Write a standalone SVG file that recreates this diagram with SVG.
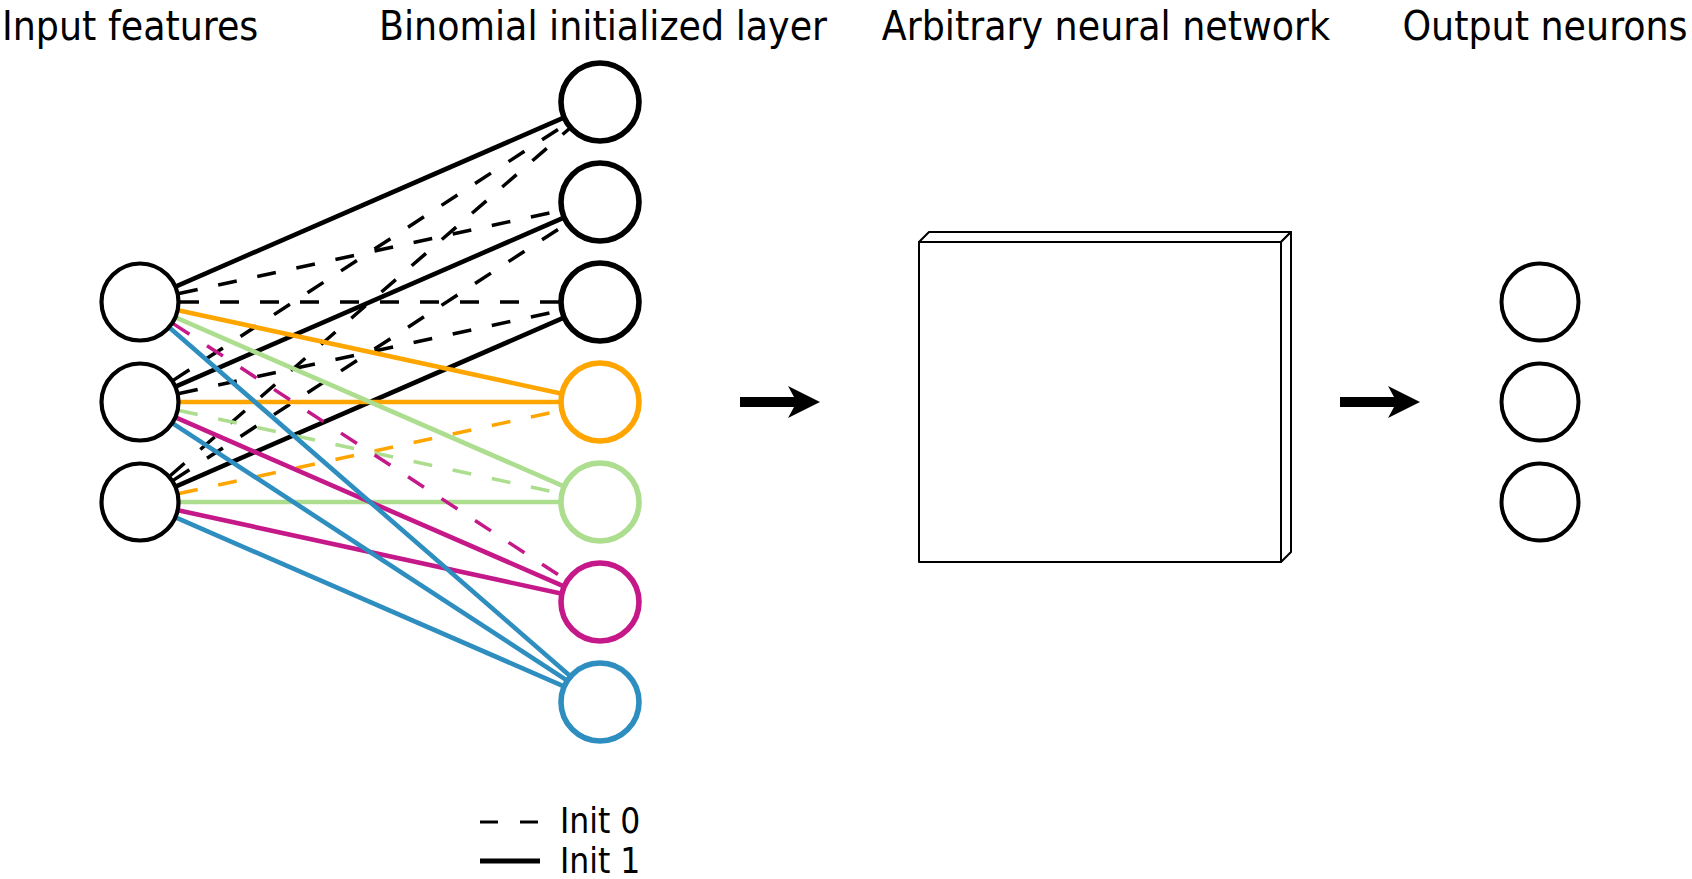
<svg xmlns="http://www.w3.org/2000/svg" width="1692" height="879" viewBox="0 0 1692 879">
<style>
text{font-family:"DejaVu Sans Condensed","DejaVu Sans",sans-serif;font-stretch:condensed;fill:#000}
.title{font-size:40.5px}
.leg{font-size:35px}
.nin{fill:#fff;stroke:#000;stroke-width:4.2}
.nb{fill:#fff;stroke-width:5.6}
.nout{fill:#fff;stroke:#000;stroke-width:4}
.s{stroke-width:4.6;fill:none}
.d{stroke-width:3.5;fill:none;stroke-dasharray:19 21}
.k{stroke:#000}.o{stroke:#FFA500}.g{stroke:#ADDE8F}.m{stroke:#C5198A}.b{stroke:#2E8EC0}
.box{fill:#fff;stroke:#000;stroke-width:2;stroke-linejoin:round}
</style>
<rect width="1692" height="879" fill="#fff"/>
<g id="titles">
<text class="title" x="2" y="40">Input features</text>
<text class="title" x="603" y="40" text-anchor="middle">Binomial initialized layer</text>
<text class="title" x="1106" y="40" text-anchor="middle">Arbitrary neural network</text>
<text class="title" x="1545" y="40" text-anchor="middle">Output neurons</text>
</g>
<g id="connectors">
<line class="s k" x1="176.68" y1="286.05" x2="563.32" y2="117.95"/>
<line class="d k" x1="173.50" y1="380.15" x2="566.50" y2="123.85"/>
<line class="d k" x1="170.18" y1="475.75" x2="569.82" y2="128.25"/>
<line class="d k" x1="179.09" y1="293.50" x2="560.91" y2="210.50"/>
<line class="s k" x1="176.68" y1="386.05" x2="563.32" y2="217.95"/>
<line class="d k" x1="173.50" y1="480.15" x2="566.50" y2="223.85"/>
<line class="d k" x1="180" y1="302" x2="560" y2="302"/>
<line class="d k" x1="179.09" y1="393.50" x2="560.91" y2="310.50"/>
<line class="s k" x1="176.68" y1="486.05" x2="563.32" y2="317.95"/>
<line class="s o" x1="179.09" y1="310.50" x2="560.91" y2="393.50"/>
<line class="s o" x1="180" y1="402" x2="560" y2="402"/>
<line class="d o" x1="179.09" y1="493.50" x2="560.91" y2="410.50"/>
<line class="s g" x1="176.68" y1="317.95" x2="563.32" y2="486.05"/>
<line class="d g" x1="179.09" y1="410.50" x2="560.91" y2="493.50"/>
<line class="s g" x1="180" y1="502" x2="560" y2="502"/>
<line class="d m" x1="173.50" y1="323.85" x2="566.50" y2="580.15"/>
<line class="s m" x1="176.68" y1="417.95" x2="563.32" y2="586.05"/>
<line class="s m" x1="179.09" y1="510.50" x2="560.91" y2="593.50"/>
<line class="s b" x1="170.18" y1="328.25" x2="569.82" y2="675.75"/>
<line class="s b" x1="173.50" y1="423.85" x2="566.50" y2="680.15"/>
<line class="s b" x1="176.68" y1="517.95" x2="563.32" y2="686.05"/>
<polygon id="arrow1" points="740,397 794,397 788,386 820,402 788,418 794,407 740,407" fill="#000"/>
<polygon id="arrow2" points="1340,397 1394,397 1388,386 1420,402 1388,418 1394,407 1340,407" fill="#000"/>
</g>
<g id="input1"><circle class="nin" cx="140" cy="302" r="38.5"/></g>
<g id="input2"><circle class="nin" cx="140" cy="402" r="38.5"/></g>
<g id="input3"><circle class="nin" cx="140" cy="502" r="38.5"/></g>
<g id="bin1"><circle class="nb k" cx="600" cy="102" r="39"/></g>
<g id="bin2"><circle class="nb k" cx="600" cy="202" r="39"/></g>
<g id="bin3"><circle class="nb k" cx="600" cy="302" r="39"/></g>
<g id="bin4"><circle class="nb o" cx="600" cy="402" r="39"/></g>
<g id="bin5"><circle class="nb g" cx="600" cy="502" r="39"/></g>
<g id="bin6"><circle class="nb m" cx="600" cy="602" r="39"/></g>
<g id="bin7"><circle class="nb b" cx="600" cy="702" r="39"/></g>
<g id="network">
<polygon class="box" points="919,242 929,232 1291,232 1281,242"/>
<polygon class="box" points="1281,242 1291,232 1291,552 1281,562"/>
<rect class="box" x="919" y="242" width="362" height="320"/>
</g>
<g id="output1"><circle class="nout" cx="1540" cy="302" r="38.5"/></g>
<g id="output2"><circle class="nout" cx="1540" cy="402" r="38.5"/></g>
<g id="output3"><circle class="nout" cx="1540" cy="502" r="38.5"/></g>
<g id="legend">
<line x1="480" y1="822" x2="540" y2="822" stroke="#000" stroke-width="3" stroke-dasharray="18 22"/>
<line x1="480" y1="861" x2="540" y2="861" stroke="#000" stroke-width="5"/>
<text class="leg" x="560" y="833">Init 0</text>
<text class="leg" x="560" y="873">Init 1</text>
</g>
</svg>
